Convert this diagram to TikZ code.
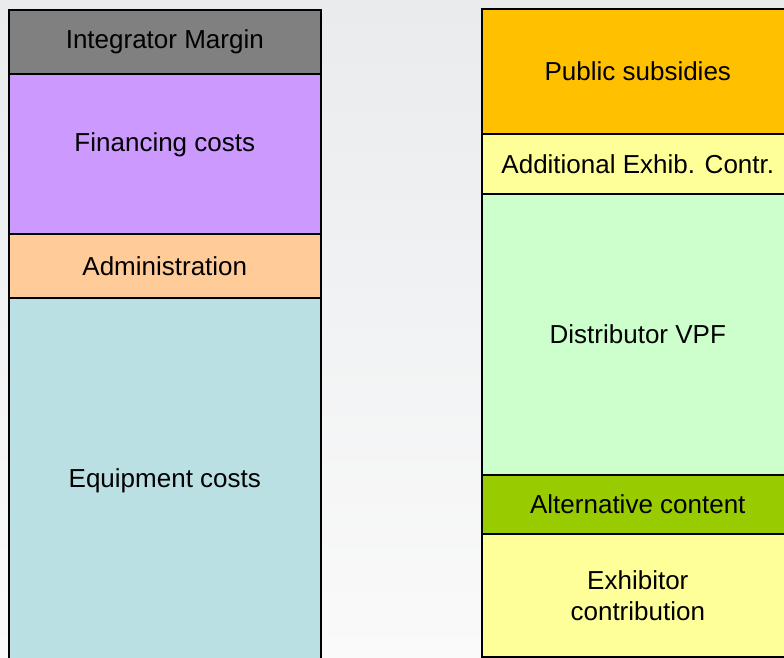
\documentclass[tikz,border=0pt]{standalone}
\usepackage{fontspec}
\setmainfont{Liberation Sans}
\begin{document}
\begin{tikzpicture}[x=1pt,y=-1pt,
  seg/.style={draw=black, line width=1.6pt, rectangle, anchor=north west,
    inner sep=0pt, minimum width=312pt, align=center,
    font=\fontsize{26}{31}\selectfont},
]
\definecolor{bgtop}{HTML}{E9EBED}
\definecolor{bgbot}{HTML}{FAFAFA}
\definecolor{cInteg}{HTML}{808080}
\definecolor{cFin}{HTML}{CC99FF}
\definecolor{cAdmin}{HTML}{FFCC99}
\definecolor{cEquip}{HTML}{BAE0E3}
\definecolor{cPub}{HTML}{FFC000}
\definecolor{cYellow}{HTML}{FFFF99}
\definecolor{cDist}{HTML}{CCFFCC}
\definecolor{cAlt}{HTML}{99CC00}

\useasboundingbox (0,0) rectangle (784,658);
\clip (0,0) rectangle (784,658);
\shade[top color=bgtop, bottom color=bgbot] (0,0) rectangle (784,658);

% cost stack
\node[seg, fill=cInteg,  minimum height=64pt]  (integ) at (8,9)   {Integrator Margin};
\node[seg, fill=cFin,    minimum height=160pt,
      label={[yshift=9pt, font=\fontsize{26}{31}\selectfont]center:Financing costs}] (fin) at (8,73) {};
\node[seg, fill=cAdmin,  minimum height=64pt]  (admin) at (8,233) {Administration};
\node[seg, fill=cEquip,  minimum height=366pt] (equip) at (8,297) {Equipment costs};

% funding stack
\node[seg, fill=cPub,    minimum height=125pt] (pub)  at (481,8)   {Public subsidies};
\node[seg, fill=cYellow, minimum height=60pt]  (add)  at (481,133) {Additional Exhib. Contr.};
\node[seg, fill=cDist,   minimum height=281pt] (dist) at (481,193) {Distributor VPF};
\node[seg, fill=cAlt,    minimum height=59pt]  (alt)  at (481,474) {Alternative content};
\node[seg, fill=cYellow, minimum height=123pt] (exh)  at (481,533) {Exhibitor\\contribution};
\end{tikzpicture}
\end{document}
